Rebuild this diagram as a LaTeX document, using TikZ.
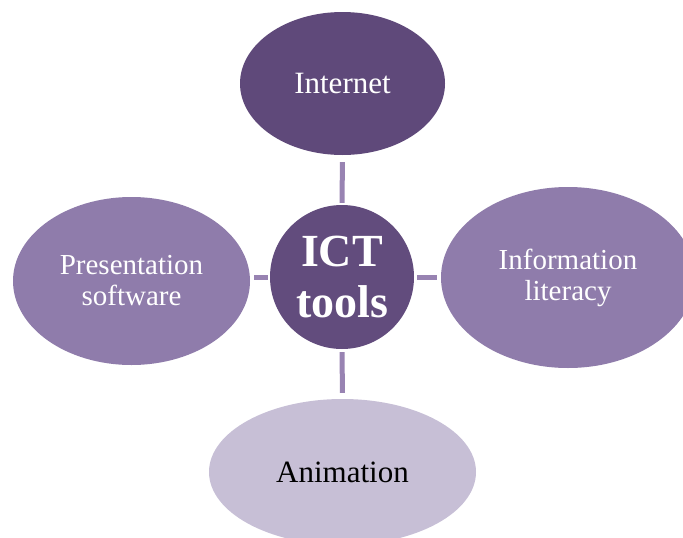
\documentclass[tikz,border=0pt]{standalone}
\usepackage{fontspec}
\setmainfont{Liberation Serif}
\usetikzlibrary{shapes.geometric}
\definecolor{darkpurp}{HTML}{5F497A}
\definecolor{circpurp}{HTML}{624C7D}
\definecolor{midpurp}{HTML}{8F7CAB}
\definecolor{lightpurp}{HTML}{C7BFD6}
\definecolor{connpurp}{HTML}{9883B2}
\tikzset{
  bub/.style={ellipse, inner sep=0pt, align=center, text=white},
  conn/.style={draw=connpurp, line width=5pt}
}
\begin{document}
\begin{tikzpicture}[x=1pt,y=-1pt]
\useasboundingbox (0,0) rectangle (683,538);
\node[bub, fill=darkpurp, minimum width=205pt, minimum height=143pt, font=\fontsize{31}{32}\selectfont] (inet) at (342.5,83.5) {Internet};
\node[circle, fill=circpurp, minimum size=144pt, inner sep=0pt, align=center, text=white, font=\fontsize{46}{51}\selectfont\bfseries] (ict) at (342,277) {ICT\\tools};
\node[bub, fill=midpurp, minimum width=237pt, minimum height=168pt, font=\fontsize{29}{31}\selectfont] (pres) at (131.5,281) {Presentation\\software};
\node[bub, fill=midpurp, minimum width=254pt, minimum height=181pt, font=\fontsize{29}{31}\selectfont] (info) at (568,277.5) {Information\\literacy};
\node[bub, fill=lightpurp, text=black, minimum width=267pt, minimum height=146pt, font=\fontsize{31}{32}\selectfont] (anim) at (342.5,472) {Animation};
\draw[conn, shorten <=2pt, shorten >=7pt] (ict.north) -- (inet.south);
\draw[conn, shorten <=2pt, shorten >=4pt] (ict.west) -- (pres.east |- ict.west);
\draw[conn, shorten <=3pt, shorten >=4pt] (ict.east) -- (info.west |- ict.east);
\draw[conn, shorten <=3pt, shorten >=6pt] (ict.south) -- (anim.north);
\end{tikzpicture}
\end{document}
